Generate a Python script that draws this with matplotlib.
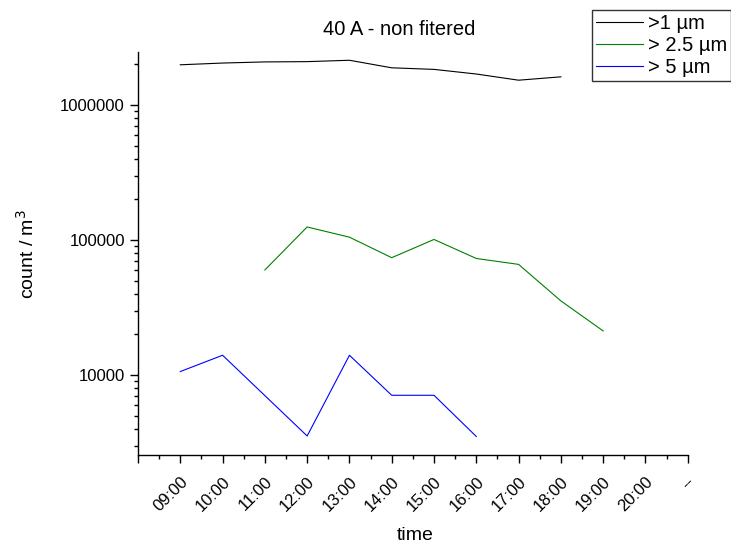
import matplotlib
matplotlib.use("Agg")
import matplotlib.pyplot as plt
from matplotlib.ticker import FixedLocator, LogLocator, NullFormatter
import numpy as np

plt.rcParams['font.family'] = ['Liberation Sans', 'DejaVu Sans']

# x labels, one per hour slot (position 0 is the empty slot at the axis origin)
tick_labels = ["", "09:00", "10:00", "11:00", "12:00", "13:00", "14:00",
               "15:00", "16:00", "17:00", "18:00", "19:00", "20:00", "--"]

# >1 um, 09:00 .. 18:00
x_1um = [1, 2, 3, 4, 5, 6, 7, 8, 9, 10]
y_1um = [1.99e6, 2.05e6, 2.09e6, 2.10e6, 2.15e6, 1.89e6, 1.84e6, 1.70e6, 1.53e6, 1.62e6]

# >2.5 um, 11:00 .. 19:00
x_25um = [3, 4, 5, 6, 7, 8, 9, 10, 11]
y_25um = [6.0e4, 1.25e5, 1.05e5, 7.4e4, 1.01e5, 7.3e4, 6.6e4, 3.54e4, 2.12e4]

# >5 um, 09:00 .. 16:00 (no 11:00 value)
x_5um = [1, 2, 4, 5, 6, 7, 8]
y_5um = [1.06e4, 1.40e4, 3.53e3, 1.40e4, 7.07e3, 7.07e3, 3.5e3]

fig = plt.figure(figsize=(7.31, 5.43), dpi=100)
ax = fig.add_axes([0.1888, 0.162, 0.752, 0.742])

ax.plot(x_1um, y_1um, color='black', lw=0.8, label='>1 µm')
ax.plot(x_25um, y_25um, color='#008000', lw=0.8, label='> 2.5 µm')
ax.plot(x_5um, y_5um, color='#0000ff', lw=0.8, label='> 5 µm')

ax.set_yscale('log')
ax.set_ylim(2550, 2.47e6)
ax.set_xlim(0, 13)

ax.xaxis.set_major_locator(FixedLocator(np.arange(0, 14)))
ax.xaxis.set_minor_locator(FixedLocator(np.arange(0.5, 13, 1)))
ax.set_xticklabels(tick_labels, rotation=45, ha='right', rotation_mode='anchor')

ax.yaxis.set_major_locator(LogLocator(base=10, numticks=10))
ax.yaxis.set_minor_locator(LogLocator(base=10, subs=np.arange(2, 10), numticks=20))
ax.yaxis.set_minor_formatter(NullFormatter())
ax.yaxis.set_major_formatter(plt.FuncFormatter(lambda v, p: "%d" % round(v)))

ax.tick_params(which='major', direction='out', length=6, width=1, labelsize=12)
ax.tick_params(axis='x', which='major', pad=8)
ax.tick_params(which='minor', direction='out', length=3, width=1)

for s in ['top', 'right']:
    ax.spines[s].set_visible(False)
for s in ['left', 'bottom']:
    ax.spines[s].set_linewidth(1)

ax.set_title('40 A - non fitered', fontsize=14.5, pad=12, x=0.476)
ax.set_xlabel('time', fontsize=14, labelpad=9, x=0.505)
ax.set_ylabel('count / m$^3$', fontsize=14, labelpad=16)

leg = fig.legend(loc='upper right', bbox_to_anchor=(1.0, 0.9816), fontsize=14.5,
                 frameon=True, fancybox=False, edgecolor='black',
                 handlelength=2.3, handletextpad=0.25, borderpad=0.2,
                 labelspacing=0.15, borderaxespad=0)
leg.get_frame().set_linewidth(1)

fig.savefig('out.png', dpi=100)
